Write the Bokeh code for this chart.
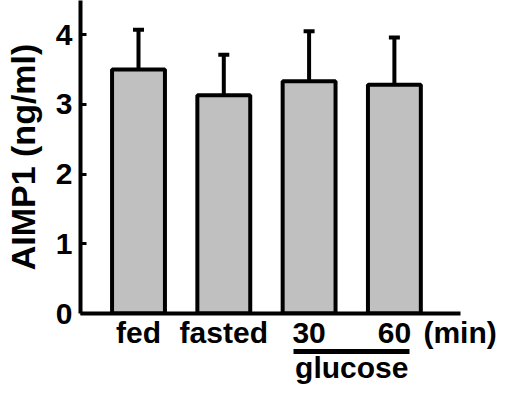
from bokeh.plotting import figure
from bokeh.models import (LinearAxis, FixedTicker, Whisker, TeeHead,
                          Range1d, ColumnDataSource)
from bokeh.embed import file_html
from bokeh.resources import INLINE

# ---- data ----
categories = ["fed", "fasted", "30", "60"]
means = [3.50, 3.13, 3.33, 3.28]
errors = [0.57, 0.58, 0.72, 0.68]
y_ticks = [0, 1, 2, 3, 4]
group_label = "glucose"
group_members = ["30", "60"]
unit_label = "(min)"
y_title = "AIMP1 (ng/ml)"

FONT = "Liberation Sans"
FS = "30px"

x = [i + 1 for i in range(len(categories))]
upper = [m + e for m, e in zip(means, errors)]
src = ColumnDataSource(dict(x=x, mean=means, upper=upper))

X_END = 4.775
p = figure(width=498, height=393,
           x_range=Range1d(0.32, X_END), y_range=Range1d(0, 4.49),
           output_backend="svg", toolbar_location=None,
           min_border_left=72, min_border_right=38,
           min_border_top=0, min_border_bottom=80)
p.grid.visible = False
p.outline_line_color = None
p.background_fill_color = "white"
p.border_fill_color = "white"

p.vbar(x="x", top="mean", width=0.62, source=src,
       fill_color="#c0c0c0", line_color="black", line_width=4)

wh = Whisker(source=src, base="x", lower="mean", upper="upper",
             dimension="height", line_color="black", line_width=4,
             upper_head=TeeHead(size=11, line_width=4, line_color="black"),
             lower_head=None)
p.add_layout(wh)

# y axis
ya = p.yaxis[0]
ya.ticker = FixedTicker(ticks=y_ticks)
ya.axis_line_width = 4
ya.major_tick_in = 6
ya.major_tick_out = 0
ya.major_tick_line_width = 3
ya.minor_tick_line_color = None
ya.major_label_text_font = FONT
ya.major_label_text_font_size = FS
ya.major_label_text_font_style = "bold"
ya.major_label_text_color = "black"
ya.major_label_standoff = 8
ya.axis_label = y_title
ya.axis_label_text_font = FONT
ya.axis_label_text_font_size = "34px"
ya.axis_label_text_font_style = "bold"
ya.axis_label_text_color = "black"
ya.axis_label_standoff = 11

# x axis (categories + unit label at the right end)
unit_pos = 4.77
xa = p.xaxis[0]
xa.ticker = FixedTicker(ticks=x + [unit_pos])
ov = {xi: c for xi, c in zip(x, categories)}
ov[unit_pos] = unit_label
xa.major_label_overrides = ov
xa.axis_line_width = 4
xa.major_tick_in = 0
xa.major_tick_out = 0
xa.major_tick_line_color = None
xa.minor_tick_in = 0
xa.minor_tick_out = 0
xa.minor_tick_line_color = None
xa.major_label_text_font = FONT
xa.major_label_text_font_size = FS
xa.major_label_text_font_style = "bold"
xa.major_label_text_color = "black"
xa.major_label_standoff = 2

# group axis (glucose underline)
gx = [x[categories.index(g)] for g in group_members]
gmid = sum(gx) / len(gx)
ga = LinearAxis(bounds=(min(gx) - 0.18, max(gx) + 0.18),
                ticker=FixedTicker(ticks=[gmid]),
                major_label_overrides={gmid: group_label})
ga.axis_line_width = 5
ga.major_tick_in = 0
ga.major_tick_out = 0
ga.major_tick_line_color = None
ga.minor_tick_in = 0
ga.minor_tick_out = 0
ga.minor_tick_line_color = None
ga.major_label_text_font = FONT
ga.major_label_text_font_size = FS
ga.major_label_text_font_style = "bold"
ga.major_label_text_color = "black"
ga.major_label_standoff = -1
p.add_layout(ga, "below")

open("out.html", "w").write(file_html(p, INLINE))
